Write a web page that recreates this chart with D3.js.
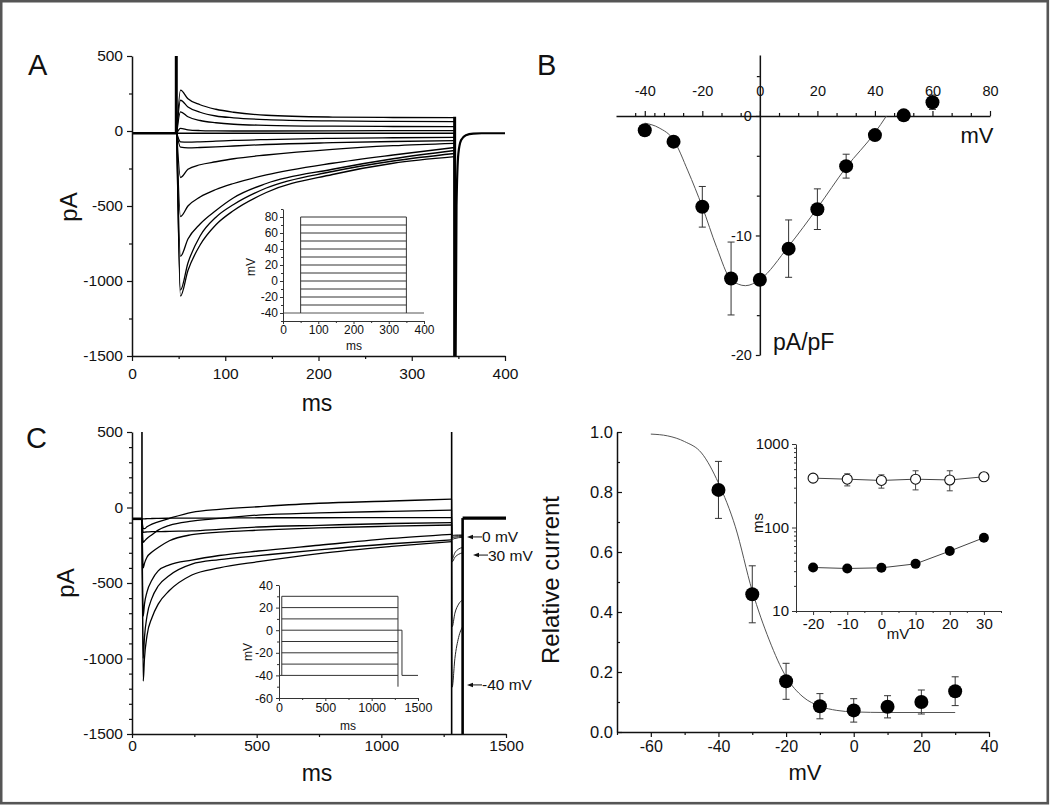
<!DOCTYPE html>
<html>
<head>
<meta charset="utf-8">
<script src="https://cdnjs.cloudflare.com/ajax/libs/d3/7.8.5/d3.min.js"></script>
<style>
  body { margin: 0; background: #fff; }
  svg { display: block; }
</style>
</head>
<body>
<svg id="fig" width="1050" height="805"></svg>
<script>
// ---------- data ----------

// A: Na-like currents, step protocol -40..80 mV from holding, pA vs ms
const tA = [52, 60, 73, 90, 109, 144, 215, 280, 346];
const currentsA = [
  [273, 215, 175, 145, 125, 105, 93, 90, 89],
  [205, 160, 125, 100, 88, 76, 67, 64, 62],
  [128, 95, 70, 55, 45, 38, 32, 30, 29],
  [18, 8, 3, 1, 0, 0, 1, 2, 3],
  [-15, -15, -15, -15, -15, -15, -15, -15, -15],
  [-72, -74, -72, -68, -63, -57, -49, -45, -42],
  [-108, -112, -110, -106, -100, -90, -78, -70, -64],
  [-310, -255, -225, -205, -185, -160, -122, -98, -82],
  [-570, -500, -440, -390, -350, -293, -215, -160, -110],
  [-835, -720, -620, -530, -445, -350, -255, -185, -130],
  [-1060, -880, -700, -575, -490, -380, -270, -200, -150],
  [-1100, -930, -760, -625, -530, -410, -290, -215, -171]
];
const holdA = -15;
const capOffA = [[347, -1500], [348, -500], [350, -150], [353, -60], [358, -28], [366, -17], [375, -15], [400, -15]];
const stepLevelsA = [-30, -20, -10, 0, 10, 20, 30, 40, 50, 60, 70, 80];

// B: I-V relation, pA/pF vs mV
const mvB = [-40, -30, -20, -10, 0, 10, 20, 30, 40, 50, 60];
const densB = [-1.2, -2.15, -7.6, -13.6, -13.7, -11.1, -7.8, -4.2, -1.6, 0.05, 1.15];
const errB = [0, 0, 1.7, 3.05, 0, 2.4, 1.7, 1.0, 0, 0, 0.6];
const fitMvB = [-40, -35, -30, -25, -20, -15, -10, -5, 0, 10, 20, 30, 40, 44];
const fitDensB = [-0.6, -1.0, -2.0, -4.6, -7.6, -11.0, -13.7, -14.2, -13.7, -10.9, -7.7, -4.3, -1.4, 0];

// C: currents during 1.25 s steps -40..30 mV, then test pulse
const tC = [45, 50, 60, 80, 105, 150, 240, 350, 507, 750, 1041, 1282];
const currentsC = [
  [-140, -140, -128, -110, -95, -72, -32, -12, 5, 28, 43, 56],
  [-75, -75, -74, -73, -72, -71, -70, -70, -68, -68, -67, -67],
  [-230, -222, -205, -180, -150, -118, -90, -72, -50, -36, -25, -17],
  [-165, -163, -162, -160, -160, -158, -155, -145, -129, -118, -106, -100],
  [-400, -370, -330, -295, -265, -220, -180, -163, -150, -135, -124, -116],
  [-720, -640, -560, -480, -420, -380, -348, -318, -288, -250, -205, -178],
  [-1000, -860, -720, -600, -520, -450, -375, -345, -319, -280, -240, -215],
  [-1150, -1000, -850, -730, -640, -550, -447, -400, -359, -305, -258, -226]
];
const tTailC = [1284, 1295, 1310, 1326];
const tailsC = [
  [-185, -183, -182, -182],
  [-190, -188, -186, -185],
  [-200, -196, -193, -192],
  [-210, -205, -200, -198],
  [-340, -300, -275, -265],
  [-360, -330, -310, -300],
  [-790, -700, -640, -612],
  [-1190, -1000, -860, -790]
];
const holdC = [-75, -70];
const stepLevelsC = [-30, -20, -10, 0, 10, 20, 30];
const notesC = ['0 mV', '30 mV', '-40 mV'];
const notePaC = [-195, -315, -1175];

// D: steady-state inactivation, relative current vs mV
const mvD = [-40, -30, -20, -10, 0, 10, 20, 30];
const relD = [0.807, 0.459, 0.169, 0.086, 0.072, 0.084, 0.100, 0.136];
const errD = [0.095, 0.095, 0.06, 0.042, 0.039, 0.037, 0.04, 0.048];
const fitMvD = [-60, -55, -50, -45, -40, -35, -30, -25, -20, -15, -10, -5, 0, 10, 20, 30];
const fitRelD = [0.993, 0.987, 0.968, 0.93, 0.83, 0.684, 0.47, 0.307, 0.184, 0.117, 0.086, 0.072, 0.067, 0.065, 0.065, 0.065];

// D inset: time constants (ms) vs mV
const mvTau = [-20, -10, 0, 10, 20, 30];
const tauSlow = [390, 379, 366, 379, 371, 405];
const tauSlowHi = [390, 440, 427, 478, 478, 405];
const tauSlowLo = [390, 315, 296, 282, 275, 405];
const tauFast = [33.2, 32.3, 32.9, 36.7, 52.2, 75.5];

// ---------- drawing ----------
const FONT = '"Liberation Sans", Arial, Helvetica, sans-serif';
const svg = d3.select('#fig');

svg.append('rect')
  .attr('x', 1.2).attr('y', 1.2).attr('width', 1046.6).attr('height', 802)
  .attr('fill', '#fff').attr('stroke', '#555').attr('stroke-width', 2.6);

function axis(g, scale, side, pos, major, minor, o) {
  const make = {left: d3.axisLeft, bottom: d3.axisBottom, top: d3.axisTop}[side];
  const tr = side === 'left' ? `translate(${pos},0)` : `translate(0,${pos})`;
  const col = o.color || '#111';
  if (minor && minor.length) {
    g.append('g').attr('transform', tr)
      .call(make(scale).tickValues(minor).tickSizeInner(o.minor).tickSizeOuter(0).tickFormat(''))
      .call(a => a.select('.domain').remove())
      .selectAll('line').attr('stroke', col).attr('stroke-width', o.sw || 1.2);
  }
  const a = g.append('g').attr('transform', tr)
    .call(make(scale).tickValues(major).tickSizeInner(o.major).tickSizeOuter(0)
      .tickPadding(o.pad).tickFormat(o.fmt || (d => String(d))));
  a.attr('font-family', FONT).attr('font-size', o.font);
  a.selectAll('line').attr('stroke', col).attr('stroke-width', o.sw || 1.2);
  a.select('.domain').attr('stroke', col).attr('stroke-width', o.dw || 1.5);
  a.selectAll('text').attr('fill', '#111');
  return a;
}

function label(txt, x, y, size, o) {
  o = o || {};
  const t = svg.append('text')
    .attr('x', x).attr('y', y)
    .attr('font-family', FONT).attr('font-size', size)
    .attr('text-anchor', o.anchor || 'middle').attr('fill', '#111')
    .text(txt);
  if (o.rot) t.attr('transform', `rotate(-90,${x},${y})`);
  return t;
}

function path(g, pts, x, y, w, col, curve) {
  const line = d3.line().x(d => x(d[0])).y(d => y(d[1]));
  if (curve) line.curve(curve);
  g.append('path').attr('d', line(pts))
    .attr('fill', 'none').attr('stroke', col || '#000').attr('stroke-width', w || 1)
    .attr('stroke-linejoin', 'round');
}

function errorBars(g, xs, lo, hi, x, y, cap, col) {
  xs.forEach((v, i) => {
    if (lo[i] === hi[i]) return;
    const gx = x(v);
    g.append('line').attr('x1', gx).attr('x2', gx).attr('y1', y(lo[i])).attr('y2', y(hi[i]))
      .attr('stroke', col).attr('stroke-width', 1);
    [lo[i], hi[i]].forEach(e => {
      g.append('line').attr('x1', gx - cap).attr('x2', gx + cap).attr('y1', y(e)).attr('y2', y(e))
        .attr('stroke', col).attr('stroke-width', 1);
    });
  });
}

// panel letters
label('A', 28, 75, 29, {anchor: 'start'});
label('B', 537, 75, 29, {anchor: 'start'});
label('C', 26, 448, 29, {anchor: 'start'});

// ===== Panel A =====
{
  const g = svg.append('g');
  const x = d3.scaleLinear([0, 400], [132, 505]);
  const y = d3.scaleLinear([-1500, 500], [356, 56]);
  svg.append('clipPath').attr('id', 'clipA').append('rect')
    .attr('x', 132).attr('y', 56).attr('width', 373).attr('height', 300);
  const tr = g.append('g').attr('clip-path', 'url(#clipA)');

  currentsA.forEach(vals => {
    const pts = [[48, holdA]].concat(tA.map((t, i) => [t, vals[i]]));
    path(tr, pts, x, y, 1.3, '#000', d3.curveMonotoneX);
  });
  path(tr, [[0, holdA], [47.5, holdA]], x, y, 2.6);
  path(tr, [[47.5, holdA], [47.5, 500]], x, y, 3);
  path(tr, [[346, 95], [346, -1500]], x, y, 3);
  path(tr, [[346, holdA]].concat(capOffA), x, y, 2.2, '#000', d3.curveMonotoneX);

  axis(g, y, 'left', 132, [-1500, -1000, -500, 0, 500], [-1250, -750, -250, 250],
    {major: 5, minor: 3, pad: 4, font: 15.5});
  axis(g, x, 'bottom', 356, [0, 100, 200, 300, 400], [50, 150, 250, 350],
    {major: 5, minor: 3, pad: 7, font: 15.5});
  label('pA', 77, 207, 24, {rot: true});
  label('ms', 317, 411, 23);

  // inset: voltage protocol
  const ix = d3.scaleLinear([0, 400], [283, 424]);
  const iy = d3.scaleLinear([-50, 90], [321, 209]);
  const ig = svg.append('g');
  stepLevelsA.forEach(v => path(ig, [[50, v], [350, v]], ix, iy, 1, '#333'));
  path(ig, [[0, -40], [400, -40]], ix, iy, 1, '#555');
  path(ig, [[50, -40], [50, 80]], ix, iy, 1, '#333');
  path(ig, [[350, -40], [350, 80]], ix, iy, 1, '#333');
  axis(ig, iy, 'left', 283, [-40, -20, 0, 20, 40, 60, 80], [-50, -30, -10, 10, 30, 50, 70, 90],
    {major: 3, minor: 2, pad: 2, font: 12, color: '#333', dw: 1, sw: 1});
  axis(ig, ix, 'bottom', 321, [0, 100, 200, 300, 400], [50, 150, 250, 350],
    {major: 3, minor: 2, pad: 1, font: 12, color: '#333', dw: 1, sw: 1});
  label('mV', 255, 267, 12, {rot: true});
  label('ms', 354, 350, 12);
}

// ===== Panel B =====
{
  const g = svg.append('g');
  const x = d3.scaleLinear([-50, 80], [616, 990]);
  const y = d3.scaleLinear([-20, 5.1], [355, 55]);

  const majX = [-40, -20, 0, 20, 40, 60, 80];
  const minX = [-50].concat(majX).flatMap(v => [v + 20 / 3, v + 40 / 3]).filter(v => v < 80);
  axis(g, x, 'top', y(0), majX, minX, {major: 5, minor: 3, pad: 15, font: 14.5});
  const majY = [-20, -10, 0];
  const minY = [-50 / 3, -40 / 3, -20 / 3, -10 / 3, 10 / 3];
  axis(g, y, 'left', x(0), majY, minY, {major: 4, minor: 3, pad: 4, font: 14.5});

  const fit = fitMvB.map((v, i) => [v, fitDensB[i]]);
  path(g, fit, x, y, 1, '#555', d3.curveMonotoneX);
  errorBars(g, mvB, densB.map((d, i) => d - errB[i]), densB.map((d, i) => d + errB[i]), x, y, 3.5, '#333');
  g.selectAll('circle.b').data(mvB).join('circle')
    .attr('cx', d => x(d)).attr('cy', (d, i) => y(densB[i])).attr('r', 7).attr('fill', '#000');

  label('mV', 977, 143, 22);
  label('pA/pF', 773, 350, 23, {anchor: 'start'});
}

// ===== Panel C =====
{
  const g = svg.append('g');
  const x = d3.scaleLinear([0, 1500], [132, 506]);
  const y = d3.scaleLinear([-1500, 500], [734, 432]);
  svg.append('clipPath').attr('id', 'clipC').append('rect')
    .attr('x', 132).attr('y', 432).attr('width', 374).attr('height', 302);
  const tr = g.append('g').attr('clip-path', 'url(#clipC)');

  currentsC.forEach((vals, k) => {
    const pts = [[40, holdC[0]]].concat(tC.map((t, i) => [t, vals[i]]));
    path(tr, pts, x, y, 1.3, '#000', d3.curveMonotoneX);
    const tail = [[1282, vals[vals.length - 1]]].concat(tTailC.map((t, i) => [t, tailsC[k][i]]));
    path(tr, tail, x, y, 1, '#222', d3.curveMonotoneX);
  });
  path(tr, [[0, holdC[0]], [40, holdC[0]]], x, y, 2.6);
  path(tr, [[40, holdC[0]], [40, 500]], x, y, 1.6);
  path(tr, [[1282, 500], [1282, -1500]], x, y, 1.6);
  path(tr, [[1326, -1500], [1326, holdC[1]]], x, y, 2.6);
  path(tr, [[1326, holdC[1]], [1500, holdC[1]]], x, y, 3.2);

  axis(g, y, 'left', 132, [-1500, -1000, -500, 0, 500],
    [-1400, -1300, -1200, -1100, -900, -800, -700, -600, -400, -300, -200, -100, 100, 200, 300, 400],
    {major: 5, minor: 3, pad: 4, font: 15.5});
  axis(g, x, 'bottom', 734, [0, 500, 1000, 1500], [250, 750, 1250],
    {major: 4, minor: 3, pad: 2, font: 15.5});
  label('pA', 74, 583, 24, {rot: true});
  label('ms', 317, 781, 23);

  // arrows pointing at tail currents
  notesC.forEach((n, i) => {
    const yy = y(notePaC[i]);
    const x0 = i === 1 ? 473 : 467;
    svg.append('line').attr('x1', x0 + 3).attr('x2', x0 + 15).attr('y1', yy).attr('y2', yy)
      .attr('stroke', '#111').attr('stroke-width', 1);
    svg.append('path').attr('d', `M${x0},${yy} l6,-2.2 l0,4.4 z`).attr('fill', '#111');
    label(n, x0 + 15, yy + 5.5, 15.5, {anchor: 'start'});
  });

  // inset: protocol
  const ix = d3.scaleLinear([0, 1500], [279, 418]);
  const iy = d3.scaleLinear([-60, 40], [698, 585]);
  const ig = svg.append('g');
  stepLevelsC.forEach(v => path(ig, [[30, v], [1284, v]], ix, iy, 1, '#333'));
  path(ig, [[0, -40], [1284, -40]], ix, iy, 1, '#333');
  path(ig, [[30, -40], [30, 30]], ix, iy, 1, '#333');
  path(ig, [[1284, 30], [1284, -50]], ix, iy, 1, '#333');
  path(ig, [[1284, 0], [1327, 0], [1327, -40], [1500, -40]], ix, iy, 1, '#333');
  axis(ig, iy, 'left', 279, [-60, -40, -20, 0, 20, 40], [-50, -30, -10, 10, 30],
    {major: 3, minor: 2, pad: 3, font: 12.5, color: '#333', dw: 1, sw: 1});
  axis(ig, ix, 'bottom', 698, [0, 500, 1000, 1500], [250, 750, 1250],
    {major: 3, minor: 2, pad: 2, font: 12.5, color: '#333', dw: 1, sw: 1});
  label('mV', 252, 652, 12, {rot: true});
  label('ms', 348, 730, 12);
}

// ===== Panel D =====
{
  const g = svg.append('g');
  const x = d3.scaleLinear([-70, 40], [617, 989]);
  const y = d3.scaleLinear([0, 1], [732, 432]);

  axis(g, y, 'left', 617, [0, 0.2, 0.4, 0.6, 0.8, 1.0], [0.1, 0.3, 0.5, 0.7, 0.9],
    {major: -5, minor: -3, pad: 4, font: 16.5, fmt: d3.format('.1f')});
  axis(g, x, 'bottom', 732, [-60, -40, -20, 0, 20, 40], [-70, -50, -30, -10, 10, 30],
    {major: 5, minor: 3, pad: 4, font: 16});

  const fit = fitMvD.map((v, i) => [v, fitRelD[i]]);
  path(g, fit, x, y, 1, '#555', d3.curveMonotoneX);
  errorBars(g, mvD, relD.map((d, i) => d - errD[i]), relD.map((d, i) => d + errD[i]), x, y, 3.5, '#333');
  g.selectAll('circle.d').data(mvD).join('circle')
    .attr('cx', d => x(d)).attr('cy', (d, i) => y(relD[i])).attr('r', 7).attr('fill', '#000');

  label('Relative current', 559, 580, 24, {rot: true});
  label('mV', 805, 780, 22);

  // inset: time constants
  const ix = d3.scaleLinear([-25, 35], [796, 1001]);
  const iy = d3.scaleLog([10, 1000], [611, 444]);
  const ig = svg.append('g');
  axis(ig, iy, 'left', 796, [10, 100, 1000],
    [20, 30, 40, 50, 60, 70, 80, 90, 200, 300, 400, 500, 600, 700, 800, 900],
    {major: 4, minor: 2, pad: 3, font: 15, color: '#333', dw: 1, sw: 1});
  axis(ig, ix, 'bottom', 611, [-20, -10, 0, 10, 20, 30], [-25, -15, -5, 5, 15, 25, 35],
    {major: 4, minor: 2, pad: 3, font: 15, color: '#333', dw: 1, sw: 1});

  errorBars(ig, mvTau, tauSlowLo, tauSlowHi, ix, iy, 3, '#444');
  path(ig, mvTau.map((v, i) => [v, tauSlow[i]]), ix, iy, 1, '#444');
  path(ig, mvTau.map((v, i) => [v, tauFast[i]]), ix, iy, 1, '#444');
  ig.selectAll('circle.s').data(mvTau).join('circle')
    .attr('cx', d => ix(d)).attr('cy', (d, i) => iy(tauSlow[i])).attr('r', 5)
    .attr('fill', '#fff').attr('stroke', '#111').attr('stroke-width', 1.1);
  ig.selectAll('circle.f').data(mvTau).join('circle')
    .attr('cx', d => ix(d)).attr('cy', (d, i) => iy(tauFast[i])).attr('r', 5).attr('fill', '#000');

  label('ms', 763, 523, 15, {rot: true});
  label('mV', 898, 639, 15);
}
</script>
</body>
</html>
